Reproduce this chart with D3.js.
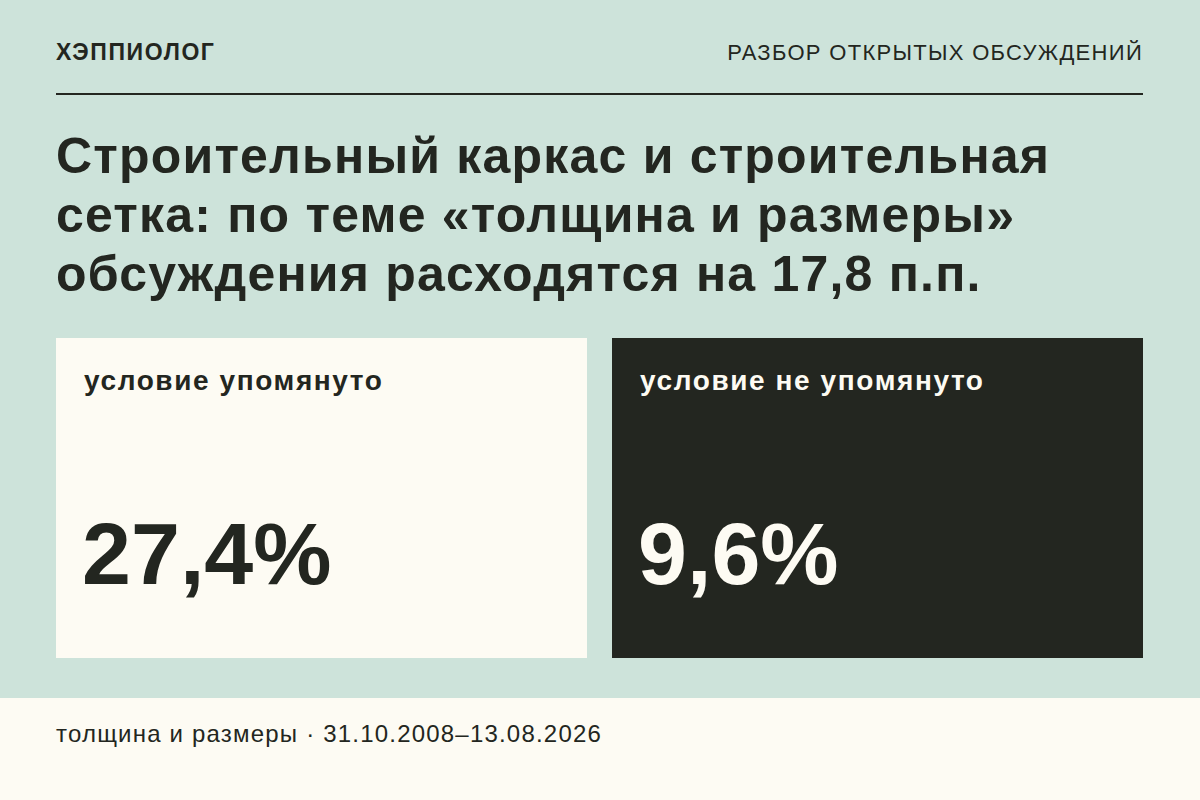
<!DOCTYPE html>
<html><head><meta charset="utf-8">
<script src="https://cdn.jsdelivr.net/npm/d3@7"></script>
<style>body{margin:0;background:#cde3da}text{font-family:"Liberation Sans",Arial,sans-serif}</style>
</head><body><svg width="1200" height="800"></svg>
<script>
// chart values
var categories = ['условие упомянуто', 'условие не упомянуто'];
var shares = [27.4, 9.6];
var titleLines = ['Строительный каркас и строительная', 'сетка: по теме «толщина и размеры»', 'обсуждения расходятся на 17,8 п.п.'];
var footerText = 'толщина и размеры · 31.10.2008–13.08.2026';

var ink = '#232620', paper = '#fdfbf3';
var svg = d3.select('svg');
svg.append('rect').attr('width', 1200).attr('height', 800).attr('fill', '#cde3da');

// header
svg.append('text').text('ХЭППИОЛОГ').attr('x', 56).attr('y', 60)
	.attr('font-size', 23).attr('font-weight', 700).attr('letter-spacing', 1.6).attr('fill', ink);
svg.append('text').text('РАЗБОР ОТКРЫТЫХ ОБСУЖДЕНИЙ').attr('x', 1143).attr('y', 60)
	.attr('text-anchor', 'end').attr('font-size', 22).attr('letter-spacing', 1.3).attr('fill', ink);
svg.append('line').attr('x1', 56).attr('x2', 1143).attr('y1', 94).attr('y2', 94)
	.attr('stroke', ink).attr('stroke-width', 2);

// title
svg.selectAll('text.title').data(titleLines).enter().append('text')
	.attr('class', 'title').text(function (d) { return d; })
	.attr('x', 56).attr('y', function (d, i) { return 173 + i * 59; })
	.attr('font-size', 50).attr('font-weight', 700).attr('letter-spacing', 1.2).attr('fill', ink);

// cards
var x = d3.scaleBand().domain(categories).range([56, 1143]).paddingInner(0.045);
var card = svg.selectAll('g.card').data(categories).enter().append('g')
	.attr('transform', function (d) { return 'translate(' + x(d) + ',338)'; });
card.append('rect').attr('width', x.bandwidth()).attr('height', 320)
	.attr('fill', function (d, i) { return i ? ink : paper; });
card.append('text').text(function (d) { return d; }).attr('x', 28).attr('y', 52)
	.attr('font-size', 28).attr('font-weight', 700).attr('letter-spacing', 1.6)
	.attr('fill', function (d, i) { return i ? paper : ink; });
card.append('text').text(function (d, i) { return d3.format('.1f')(shares[i]).replace('.', ',') + '%'; })
	.attr('x', 26).attr('y', 246).attr('font-size', 88).attr('font-weight', 700)
	.attr('fill', function (d, i) { return i ? paper : ink; });

// footer
svg.append('rect').attr('y', 698).attr('width', 1200).attr('height', 102).attr('fill', paper);
svg.append('text').text(footerText).attr('x', 56).attr('y', 742)
	.attr('font-size', 24).attr('letter-spacing', 1.2).attr('fill', ink);
</script></body></html>
